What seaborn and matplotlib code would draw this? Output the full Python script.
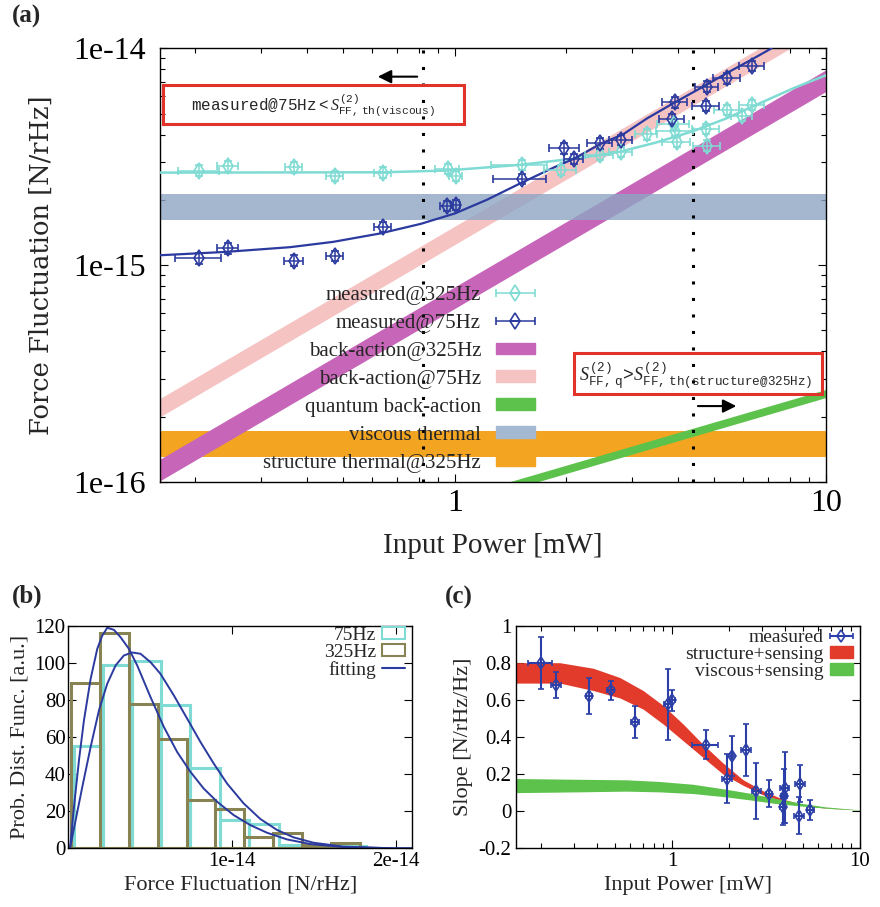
import matplotlib
matplotlib.use("Agg")
import matplotlib.pyplot as plt
from matplotlib.patches import Patch, Rectangle
from matplotlib.lines import Line2D
from matplotlib.legend_handler import HandlerErrorbar
from matplotlib.ticker import LogLocator, NullFormatter
import seaborn as sns

# ---------------- (a) force fluctuation vs input power ----------------
power_325 = [0.205, 0.244, 0.368, 0.475, 0.639, 0.956, 1.006, 1.515, 1.93, 2.46,
             2.81, 3.29, 3.89, 3.93, 3.97, 4.76, 4.79, 5.42, 5.94, 6.32]
force_325 = [2.73e-15, 2.85e-15, 2.83e-15, 2.58e-15, 2.67e-15, 2.77e-15, 2.58e-15,
             2.90e-15, 2.75e-15, 3.22e-15, 3.34e-15, 4.01e-15, 4.46e-15, 4.16e-15,
             3.71e-15, 4.25e-15, 3.56e-15, 5.19e-15, 4.89e-15, 5.48e-15]
xerr_325 = [0.026, 0.016, 0.02, 0.026, 0.033, 0.07, 0.04, 0.26, 0.19, 0.21,
            0.2, 0.22, 0.38, 0.45, 0.35, 0.4, 0.4, 0.42, 0.38, 0.5]
yerr_325 = [0.15e-15, 0.16e-15, 0.16e-15, 0.14e-15, 0.15e-15, 0.15e-15, 0.14e-15,
            0.16e-15, 0.15e-15, 0.18e-15, 0.18e-15, 0.22e-15, 0.25e-15, 0.23e-15,
            0.2e-15, 0.23e-15, 0.2e-15, 0.29e-15, 0.27e-15, 0.3e-15]

power_75 = [0.205, 0.244, 0.368, 0.475, 0.639, 0.952, 1.006, 1.515, 1.976, 2.094,
            2.46, 2.81, 3.85, 3.93, 4.75, 4.79, 5.42, 6.32]
force_75 = [1.076e-15, 1.197e-15, 1.05e-15, 1.107e-15, 1.496e-15, 1.874e-15, 1.893e-15,
            2.495e-15, 3.457e-15, 3.086e-15, 3.648e-15, 3.776e-15, 4.72e-15, 5.64e-15,
            5.44e-15, 6.66e-15, 7.27e-15, 8.32e-15]
xerr_75 = [0.029, 0.016, 0.021, 0.026, 0.033, 0.04, 0.03, 0.25, 0.18, 0.12,
           0.19, 0.2, 0.3, 0.3, 0.4, 0.35, 0.45, 0.48]
yerr_75 = [0.06e-15, 0.07e-15, 0.06e-15, 0.06e-15, 0.08e-15, 0.1e-15, 0.1e-15, 0.14e-15,
           0.19e-15, 0.17e-15, 0.2e-15, 0.21e-15, 0.26e-15, 0.31e-15, 0.3e-15, 0.37e-15,
           0.4e-15, 0.46e-15]

# fitted curves
fit325_power = [0.16, 0.64, 0.95, 1.5, 2.0, 2.5, 2.8, 3.5, 4.4, 5.4, 6.6, 8.2, 10.0]
fit325_force = [2.67e-15, 2.68e-15, 2.73e-15, 2.90e-15, 3.07e-15, 3.23e-15, 3.34e-15,
                3.68e-15, 4.15e-15, 4.75e-15, 5.55e-15, 6.55e-15, 7.5e-15]
fit75_power = [0.16, 0.24, 0.36, 0.47, 0.63, 0.81, 1.0, 1.22, 1.5, 1.85, 2.1, 2.47,
               2.85, 3.3, 3.9, 4.6, 5.5, 6.3, 7.15]
fit75_force = [1.11e-15, 1.15e-15, 1.21e-15, 1.28e-15, 1.40e-15, 1.55e-15, 1.73e-15,
               2.00e-15, 2.38e-15, 2.82e-15, 3.10e-15, 3.62e-15, 4.02e-15, 4.75e-15,
               5.60e-15, 6.55e-15, 7.80e-15, 8.85e-15, 1.0e-14]

# model bands (lower, upper)
band_power = [0.16, 10.0]
ba75_lo = [1.99e-16, 1.245e-14]
ba75_hi = [2.42e-16, 1.51e-14]
ba325_lo = [1.01e-16, 6.31e-15]
ba325_hi = [1.27e-16, 7.94e-15]
qba_power = [1.2, 10.0]
qba_lo = [8.49e-17, 2.45e-16]
qba_hi = [9.27e-17, 2.67e-16]
viscous_band = [1.61e-15, 2.13e-15]
structure_band = [1.30e-16, 1.71e-16]
threshold_power = [0.82, 4.4]

# ---------------- (b) histograms ----------------
edges_75 = [0.0335e-14, 0.2134e-14, 0.390e-14, 0.568e-14, 0.745e-14, 0.924e-14,
            1.103e-14, 1.284e-14, 1.46e-14, 1.64e-14, 1.82e-14]
counts_75 = [55, 99, 101, 77, 43, 15, 13, 2, 2, 1]
edges_325 = [0.013e-14, 0.192e-14, 0.369e-14, 0.546e-14, 0.721e-14, 0.898e-14,
             1.074e-14, 1.249e-14, 1.426e-14, 1.603e-14, 1.778e-14]
counts_325 = [89, 116, 78, 59, 26, 21, 6, 8, 2, 3]

fitA_x = [0.0093e-14, 0.0337e-14, 0.0642e-14, 0.0947e-14, 0.1354e-14, 0.176e-14,
          0.2065e-14, 0.237e-14, 0.2776e-14, 0.3183e-14, 0.369e-14, 0.420e-14,
          0.501e-14, 0.5825e-14, 0.6638e-14, 0.745e-14, 0.826e-14, 0.908e-14,
          1.009e-14, 1.111e-14, 1.2126e-14, 1.3346e-14, 1.477e-14, 1.68e-14,
          1.985e-14, 2.1e-14]
fitA_y = [0, 22.4, 47.5, 69.0, 91.3, 107.5, 114.6, 118.8, 117.7, 113.7, 107.5, 98.5,
          81.5, 65.4, 51.9, 41.2, 32.2, 25.1, 17.9, 12.5, 8.4, 4.8, 2.3, 0.7, 0, 0]
fitB_x = [0.0093e-14, 0.0439e-14, 0.0846e-14, 0.1354e-14, 0.1862e-14, 0.237e-14,
          0.2878e-14, 0.3386e-14, 0.3894e-14, 0.440e-14, 0.501e-14, 0.562e-14,
          0.6435e-14, 0.7248e-14, 0.806e-14, 0.887e-14, 0.9687e-14, 1.070e-14,
          1.172e-14, 1.2736e-14, 1.375e-14, 1.497e-14, 1.68e-14, 1.985e-14, 2.1e-14]
fitB_y = [0, 15.2, 33.1, 54.6, 74.3, 88.7, 98.5, 103.9, 105.5, 104.8, 100.3, 94.0,
          82.4, 69.9, 57.3, 45.7, 34.9, 24.2, 15.8, 9.9, 5.9, 3.0, 0.9, 0, 0]

# ---------------- (c) slope vs input power ----------------
slope_power = [0.201, 0.241, 0.362, 0.473, 0.634, 0.953, 1.005, 1.51, 1.97, 2.09,
               2.48, 2.81, 3.27, 3.89, 3.93, 3.97, 4.82, 4.76, 5.45]
slope_val = [0.80, 0.678, 0.621, 0.651, 0.481, 0.576, 0.597, 0.359, 0.176, 0.298,
             0.328, 0.109, 0.095, 0.023, 0.083, 0.127, 0.149, -0.025, 0.007]
slope_xerr = [0.03, 0.015, 0.015, 0.02, 0.03, 0.05, 0.03, 0.24, 0.12, 0.05,
              0.14, 0.15, 0.12, 0.12, 0.15, 0.2, 0.3, 0.3, 0.25]
slope_yerr = [0.14, 0.07, 0.095, 0.05, 0.085, 0.19, 0.057, 0.078, 0.13, 0.107,
              0.14, 0.15, 0.072, 0.1, 0.145, 0.19, 0.1, 0.1, 0.053]

struct_power = [0.148, 0.253, 0.381, 0.528, 0.702, 0.896, 1.144, 1.461, 1.866, 2.382,
                3.043, 3.886, 4.963, 6.607, 10.0]
struct_hi = [0.80, 0.80, 0.77, 0.72, 0.65, 0.57, 0.47, 0.36, 0.26, 0.17, 0.11, 0.065,
             0.036, 0.018, 0.007]
struct_lo = [0.69, 0.69, 0.65, 0.61, 0.55, 0.47, 0.38, 0.29, 0.20, 0.14, 0.088, 0.054,
             0.032, 0.016, 0.007]
visc_power = [0.148, 0.311, 0.573, 0.860, 1.293, 1.945, 2.586, 3.584, 4.963, 6.607, 10.0]
visc_hi = [0.176, 0.172, 0.169, 0.160, 0.145, 0.118, 0.097, 0.068, 0.041, 0.023, 0.007]
visc_lo = [0.100, 0.104, 0.108, 0.104, 0.095, 0.077, 0.061, 0.041, 0.027, 0.016, 0.005]

# colours
c_cyan = "#7fdbd3"
c_blue = "#2b3a9e"
c_pink = "#f6c3c3"
c_mag = "#c766b8"
c_green = "#5cc24b"
c_visc = "#8da5c4"
c_orange = "#f3a521"
c_box = "#e2332a"
c_olive = "#888352"
c_red = "#e33b2b"
c_pts = "#2c3fa7"

sns.set_theme(style="ticks")
plt.rcParams.update({
    "font.family": ["Liberation Serif", "DejaVu Serif"],
    "mathtext.fontset": "custom",
    "mathtext.rm": "Liberation Mono",
    "mathtext.it": "Liberation Serif:italic",
    "xtick.direction": "in", "ytick.direction": "in",
    "xtick.top": True, "ytick.right": True,
    "axes.edgecolor": "black", "axes.linewidth": 1.0,
    "xtick.color": "black", "ytick.color": "black",
    "xtick.major.size": 6, "ytick.major.size": 6,
    "xtick.minor.size": 3.5, "ytick.minor.size": 3.5,
    "xtick.major.width": 0.8, "ytick.major.width": 0.8,
    "xtick.minor.width": 0.8, "ytick.minor.width": 0.8,
})

fig = plt.figure(figsize=(8.8, 9.07), dpi=100)

# ================= panel (a) =================
ax = fig.add_axes([0.1813, 0.4686, 0.757, 0.4782])
ax.set_xscale("log")
ax.set_yscale("log")

ax.fill_between(band_power, ba75_lo, ba75_hi, color=c_pink, lw=0, zorder=1)
ax.fill_between(band_power, ba325_lo, ba325_hi, color=c_mag, lw=0, zorder=1.2)
ax.axhspan(structure_band[0], structure_band[1], color=c_orange, lw=0, zorder=0.9)
ax.fill_between(qba_power, qba_lo, qba_hi, color=c_green, lw=0, zorder=1.3)
ax.axhspan(viscous_band[0], viscous_band[1], color=c_visc, alpha=0.8, lw=0, zorder=1.4)

for p in threshold_power:
    ax.axvline(p, color="black", lw=2.2, ls=(0, (1, 4.4)), zorder=4)

sns.lineplot(x=fit325_power, y=fit325_force, color=c_cyan, lw=1.8, sort=False,
             estimator=None, ax=ax, zorder=3)
sns.lineplot(x=fit75_power, y=fit75_force, color=c_blue, lw=1.6, sort=False,
             estimator=None, ax=ax, zorder=3)

eb325 = ax.errorbar(power_325, force_325, xerr=xerr_325, yerr=yerr_325, fmt="d",
                    ms=8, mfc="none", mec=c_cyan, mew=1.2, ecolor=c_cyan,
                    elinewidth=1.1, capsize=3, zorder=5)
eb75 = ax.errorbar(power_75, force_75, xerr=xerr_75, yerr=yerr_75, fmt="d",
                   ms=8, mfc="none", mec=c_blue, mew=1.2, ecolor=c_blue,
                   elinewidth=1.1, capsize=3, zorder=5)

ax.set_xlim(0.16, 10)
ax.set_ylim(1e-16, 1e-14)
ax.set_xticks([1, 10], ["1", "10"])
ax.set_yticks([1e-16, 1e-15, 1e-14], ["1e-16", "1e-15", "1e-14"])
ax.xaxis.set_minor_locator(LogLocator(base=10, subs=range(2, 10)))
ax.yaxis.set_minor_locator(LogLocator(base=10, subs=range(2, 10)))
ax.xaxis.set_minor_formatter(NullFormatter())
ax.yaxis.set_minor_formatter(NullFormatter())
ax.tick_params(axis="y", which="both", labelsize=23, pad=10)
ax.tick_params(axis="x", which="both", labelsize=23, pad=5)
ax.set_xlabel("Input Power [mW]", fontsize=21, labelpad=11)
ax.set_ylabel("Force Fluctuation [N/rHz]", fontsize=18.5, family="DejaVu Serif", labelpad=14)

handles_a = [eb325, eb75, Patch(color=c_mag), Patch(color=c_pink), Patch(color=c_green),
             Patch(color="#a5b8d1"), Patch(color=c_orange)]
labels_a = ["measured@325Hz", "measured@75Hz", "back-action@325Hz", "back-action@75Hz",
            "quantum back-action", "viscous thermal", "structure thermal@325Hz"]
leg = ax.legend(handles_a, labels_a, loc="upper right", bbox_to_anchor=(0.564, 0.452),
                frameon=False, markerfirst=False, fontsize=15, handlelength=1.9,
                handleheight=0.5, handletextpad=0.7, labelspacing=0.43, borderpad=0,
                borderaxespad=0,
                handler_map={eb325: HandlerErrorbar(xerr_size=0.95, yerr_size=0.0),
                             eb75: HandlerErrorbar(xerr_size=0.95, yerr_size=0.0)})
leg.set_zorder(6)

ax.add_patch(Rectangle((0.0053, 0.8254), 0.4517, 0.09, transform=ax.transAxes,
                       fill=False, ec=c_box, lw=2.2, zorder=7, clip_on=False))
ax.text(0.231, 0.868, r"measured@75Hz$<S^{(2)}_{\mathrm{FF,\,th(viscous)}}$",
        transform=ax.transAxes, ha="center", va="center", fontsize=11.5,
        family="Liberation Mono", zorder=7)
ax.add_patch(Rectangle((0.622, 0.202), 0.373, 0.096, transform=ax.transAxes,
                       fill=False, ec=c_box, lw=2.2, zorder=7, clip_on=False))
ax.text(0.629, 0.245,
        r"$S^{(2)}_{\mathrm{FF,\,q}}\!>\!S^{(2)}_{\mathrm{FF,\,th(structure@325Hz)}}$",
        transform=ax.transAxes, ha="left", va="center", fontsize=13, zorder=7)
ax.annotate("", xy=(0.3235, 0.9345), xytext=(0.391, 0.9345), xycoords="axes fraction",
            arrowprops=dict(arrowstyle="-|>", color="black", lw=1.5, mutation_scale=20))
ax.annotate("", xy=(0.870, 0.175), xytext=(0.804, 0.175), xycoords="axes fraction",
            arrowprops=dict(arrowstyle="-|>", color="black", lw=1.5, mutation_scale=20))

# ================= panel (b) =================
bx = fig.add_axes([0.0778, 0.0647, 0.3907, 0.2456])
mids_75 = [(a + b) / 2 for a, b in zip(edges_75[:-1], edges_75[1:])]
mids_325 = [(a + b) / 2 for a, b in zip(edges_325[:-1], edges_325[1:])]
sns.histplot(x=mids_75, weights=counts_75, bins=edges_75, element="bars", fill=False,
             color=c_cyan, lw=1.5, ax=bx)
sns.histplot(x=mids_325, weights=counts_325, bins=edges_325, element="bars", fill=False,
             color=c_olive, lw=1.5, ax=bx)
sns.lineplot(x=fitA_x, y=fitA_y, color=c_blue, lw=1.4, sort=False, estimator=None, ax=bx)
sns.lineplot(x=fitB_x, y=fitB_y, color=c_blue, lw=1.4, sort=False, estimator=None, ax=bx)
bx.set_xlim(0, 2.1e-14)
bx.set_ylim(0, 120)
bx.set_xticks([1e-14, 2e-14], ["1e-14", "2e-14"])
bx.set_yticks(range(0, 121, 20))
bx.tick_params(axis="y", labelsize=15, pad=2)
bx.tick_params(axis="x", labelsize=15, pad=3)
bx.set_xlabel("Force Fluctuation [N/rHz]", fontsize=16, labelpad=3)
bx.set_ylabel("Prob. Dist. Func. [a.u.]", fontsize=16, labelpad=4)
bx.legend([Patch(fc="none", ec=c_cyan, lw=1.5), Patch(fc="none", ec=c_olive, lw=1.5),
           Line2D([], [], color=c_blue, lw=1.5)], ["75Hz", "325Hz", "fitting"],
          loc="upper right", bbox_to_anchor=(0.979, 0.995), frameon=False,
          markerfirst=False, fontsize=14, handlelength=1.2, handleheight=0.55,
          handletextpad=0.3, labelspacing=0.0, borderpad=0, borderaxespad=0)

# ================= panel (c) =================
cx = fig.add_axes([0.5864, 0.0647, 0.3909, 0.2456])
cx.set_xscale("log")
cx.fill_between(struct_power, struct_lo, struct_hi, color=c_red, lw=0, zorder=1)
cx.fill_between(visc_power, visc_lo, visc_hi, color=c_green, lw=0, zorder=1.1)
ebc = cx.errorbar(slope_power, slope_val, xerr=slope_xerr, yerr=slope_yerr, fmt="d",
                  ms=6, mfc="none", mec=c_pts, mew=1.2, ecolor=c_pts, elinewidth=1.5,
                  capsize=2.5, zorder=5)
cx.set_xlim(0.148, 10)
cx.set_ylim(-0.2, 1)
cx.set_xticks([1, 10], ["1", "10"])
cx.xaxis.set_minor_locator(LogLocator(base=10, subs=range(2, 10)))
cx.xaxis.set_minor_formatter(NullFormatter())
cx.set_yticks([-0.2, 0, 0.2, 0.4, 0.6, 0.8, 1], ["-0.2", "0", "0.2", "0.4", "0.6", "0.8", "1"])
cx.tick_params(axis="y", labelsize=15, pad=3.5)
cx.tick_params(axis="x", labelsize=15, pad=3)
cx.set_xlabel("Input Power [mW]", fontsize=16, labelpad=3)
cx.set_ylabel("Slope [N/rHz/Hz]", fontsize=16, labelpad=4)
cx.legend([ebc, Patch(color=c_red), Patch(color=c_green)],
          ["measured", "structure+sensing", "viscous+sensing"],
          loc="upper right", bbox_to_anchor=(0.98, 0.985), frameon=False,
          markerfirst=False, fontsize=14, handlelength=1.2, handleheight=0.55,
          handletextpad=0.3, labelspacing=0.0, borderpad=0, borderaxespad=0,
          handler_map={ebc: HandlerErrorbar(xerr_size=0.6, yerr_size=0.0)})

# panel labels
fig.text(0.0136, 0.9824, "(a)", fontsize=18, fontweight="bold", va="center")
fig.text(0.0132, 0.3429, "(b)", fontsize=18, fontweight="bold", va="center")
fig.text(0.5057, 0.3418, "(c)", fontsize=18, fontweight="bold", va="center")

fig.savefig("out.png", dpi=100)
